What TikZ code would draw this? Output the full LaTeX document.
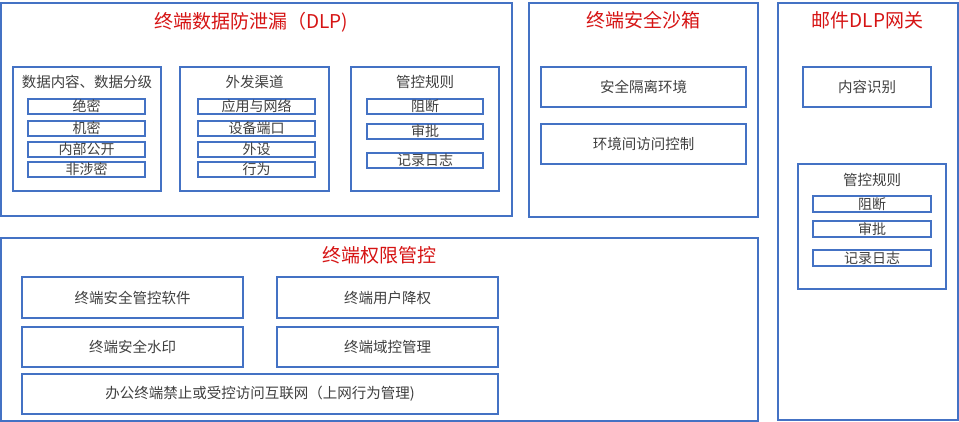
\documentclass[tikz,border=0pt]{standalone}
\usepackage{fontspec}
\setmainfont{Noto Sans CJK SC}
\definecolor{bd}{RGB}{68,114,196}
\definecolor{tx}{RGB}{64,64,64}
\definecolor{tt}{RGB}{214,20,20}
\tikzset{
  box/.style={draw=bd, line width=1.5pt, fill=white, inner sep=0pt, outer sep=0pt},
  lbl/.style={text=tx, font=\fontsize{14}{16}\selectfont, inner sep=0pt},
  ttl/.style={text=tt, font=\fontsize{19}{22}\selectfont, inner sep=0pt},
  sub/.style={text=tx, font=\fontsize{14.5}{17}\selectfont, inner sep=0pt},
}
\newcommand\bxx[6]{\node[box, minimum width=#4pt, minimum height=#5pt, label={[lbl]center:#6}] (#1) at (#2,#3) {};}
\begin{document}
\begin{tikzpicture}[x=1pt,y=-1pt]
\useasboundingbox (0,0) rectangle (959,422);
% big containers
\node[box, minimum width=511pt, minimum height=213pt] (dlp) at (256.5,109.5) {};
\node[ttl] (dlpt) at (251,22) {终端数据防泄漏（DLP)};
\node[box, minimum width=229pt, minimum height=214pt] (sb) at (643.5,110) {};
\node[ttl] (sbt) at (643.5,20) {终端安全沙箱};
\node[box, minimum width=180pt, minimum height=417pt] (mail) at (868,211.5) {};
\node[ttl] (mailt) at (867.5,20) {邮件DLP网关};
\node[box, minimum width=757pt, minimum height=183pt] (perm) at (379.5,329.5) {};
\node[ttl] (permt) at (379,255) {终端权限管控};
% DLP inner boxes
\node[box, minimum width=148pt, minimum height=124pt] (b1) at (87,129) {};
\node[sub] (b1t) at (87,82) {数据内容、数据分级};
\node[box, minimum width=149pt, minimum height=124pt] (b2) at (254.5,129) {};
\node[sub] (b2t) at (254.5,82) {外发渠道};
\node[box, minimum width=148pt, minimum height=124pt] (b3) at (425,129) {};
\node[sub] (b3t) at (425,82) {管控规则};
\bxx{a1}{86.5}{106.5}{117}{15}{绝密}
\bxx{a2}{86.5}{128.5}{117}{15}{机密}
\bxx{a3}{86.5}{149.5}{117}{15}{内部公开}
\bxx{a4}{86.5}{169.5}{117}{15}{非涉密}
\bxx{c1}{256.5}{106.5}{117}{15}{应用与网络}
\bxx{c2}{256.5}{128.5}{117}{15}{设备端口}
\bxx{c3}{256.5}{149.5}{117}{15}{外设}
\bxx{c4}{256.5}{169.5}{117}{15}{行为}
\bxx{r1}{425}{106.5}{116}{15}{阻断}
\bxx{r2}{425}{131.5}{116}{15}{审批}
\bxx{r3}{425}{160.5}{116}{15}{记录日志}
% sandbox
\node[box, minimum width=205pt, minimum height=40pt, label={[sub]center:安全隔离环境}] (s1) at (643.5,87) {};
\node[box, minimum width=205pt, minimum height=40pt, label={[sub]center:环境间访问控制}] (s2) at (643.5,144) {};
% mail
\node[box, minimum width=128pt, minimum height=40pt, label={[sub]center:内容识别}] (m1) at (867,87) {};
\node[box, minimum width=148pt, minimum height=125pt] (mr) at (872,226.5) {};
\node[sub] (mrt) at (872,180) {管控规则};
\bxx{m2}{872}{204}{118}{16}{阻断}
\bxx{m3}{872}{229}{118}{16}{审批}
\bxx{m4}{872}{258}{118}{16}{记录日志}
% permissions
\node[box, minimum width=221pt, minimum height=41pt, label={[sub]center:终端安全管控软件}] (p1) at (132.5,297.5) {};
\node[box, minimum width=221pt, minimum height=41pt, label={[sub]center:终端用户降权}] (p2) at (387.5,297.5) {};
\node[box, minimum width=221pt, minimum height=40pt, label={[sub]center:终端安全水印}] (p3) at (132.5,347) {};
\node[box, minimum width=221pt, minimum height=40pt, label={[sub]center:终端域控管理}] (p4) at (387.5,347) {};
\node[box, minimum width=476pt, minimum height=40pt, label={[sub]center:办公终端禁止或受控访问互联网（上网行为管理)}] (p5) at (260,394) {};
\end{tikzpicture}
\end{document}
